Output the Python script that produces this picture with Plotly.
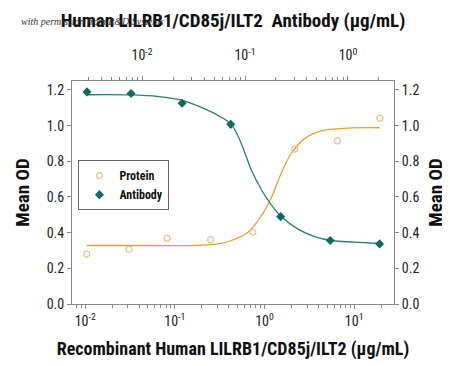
import plotly.graph_objects as go

# ---- data ----
protein_conc = [0.0104, 0.0308, 0.082, 0.25, 0.74, 2.17, 6.5, 19.3]          # µg/mL, bottom axis
protein_od = [0.28, 0.306, 0.368, 0.361, 0.402, 0.868, 0.914, 1.041]

antibody_conc = [0.00292, 0.00782, 0.0245, 0.0727, 0.222, 0.673, 2.03]        # µg/mL, top axis
antibody_od = [1.189, 1.18, 1.125, 1.007, 0.49, 0.356, 0.337]

protein_fit_x = [0.0104, 0.05, 0.182, 0.303, 0.427, 0.655, 0.92, 1.19, 1.54, 1.99, 2.81, 4.30, 8.53, 19.2]
protein_fit_y = [0.328, 0.328, 0.329, 0.337, 0.356, 0.402, 0.494, 0.596, 0.734, 0.845, 0.927, 0.970, 0.986, 0.988]

antibody_fit_x = [0.00292, 0.0078, 0.0143, 0.0241, 0.0377, 0.0589, 0.0736, 0.092, 0.115, 0.144,
                  0.174, 0.225, 0.327, 0.475, 0.689, 1.16, 2.03]
antibody_fit_y = [1.173, 1.172, 1.163, 1.143, 1.102, 1.047, 1.007, 0.90, 0.752, 0.642,
                  0.568, 0.49, 0.42, 0.378, 0.356, 0.347, 0.339]

y_ticks = [0.0, 0.2, 0.4, 0.6, 0.8, 1.0, 1.2]
y_ticklabels = ["0.0", "0.2", "0.4", "0.6", "0.8", "1.0", "1.2"]
bottom_ticks = [0.01, 0.1, 1, 10]
bottom_ticklabels = ["10<sup>-2</sup>", "10<sup>-1</sup>", "10<sup>0</sup>", "10<sup>1</sup>"]
top_ticks = [0.01, 0.1, 1]
top_ticklabels = ["10<sup>-2</sup>", "10<sup>-1</sup>", "10<sup>0</sup>"]

FONT = "Roboto Condensed, Liberation Sans Narrow, Roboto, Liberation Sans, sans-serif"
TEAL_LINE = "#2b7d78"
TEAL_MARK = "#0f6a5f"
ORANGE_LINE = "#e3a236"
ORANGE_MARK = "#e6bf8c"
AXIS = "#888888"


def minor_vals(lo_exp, hi_exp):
    vals = []
    for e in range(lo_exp, hi_exp + 1):
        for d in range(2, 10):
            vals.append(d * 10 ** e)
    return vals


fig = go.Figure()

fig.add_trace(go.Scatter(
    x=protein_fit_x, y=protein_fit_y, mode="lines", line=dict(color=ORANGE_LINE, width=1.3, shape="spline"),
    showlegend=False, hoverinfo="skip", xaxis="x", yaxis="y"))
fig.add_trace(go.Scatter(
    x=antibody_fit_x, y=antibody_fit_y, mode="lines", line=dict(color=TEAL_LINE, width=1.3, shape="spline"),
    showlegend=False, hoverinfo="skip", xaxis="x2", yaxis="y"))
fig.add_trace(go.Scatter(
    x=protein_conc, y=protein_od, mode="markers", name="Protein",
    marker=dict(symbol="circle-open", size=6, color=ORANGE_MARK, line=dict(width=1.2, color=ORANGE_MARK)),
    xaxis="x", yaxis="y"))
fig.add_trace(go.Scatter(
    x=antibody_conc, y=antibody_od, mode="markers", name="Antibody",
    marker=dict(symbol="diamond", size=7, color=TEAL_MARK),
    xaxis="x2", yaxis="y"))
# invisible trace to activate the right axis
fig.add_trace(go.Scatter(x=[0.01], y=[0], mode="markers", marker=dict(opacity=0), showlegend=False,
                         hoverinfo="skip", xaxis="x", yaxis="y2"))

tickfont = dict(family=FONT, size=14, color="#222222")
top_title_font = dict(family=FONT, size=19, color="#111111", weight="bold")
bottom_title_font = dict(family=FONT, size=18, color="#111111", weight="bold")
y_title_font = dict(family=FONT, size=19, color="#111111", weight="bold")

fig.update_layout(
    width=450, height=366,
    margin=dict(l=64, r=64, t=70, b=70),
    paper_bgcolor="white", plot_bgcolor="white",
    font=dict(family=FONT),
    xaxis=dict(
        type="log", range=[-2.147, 1.444], tickvals=bottom_ticks, ticktext=bottom_ticklabels,
        tickfont=tickfont, ticks="outside", ticklen=4, tickcolor=AXIS, showgrid=False, zeroline=False,
        showline=True, linecolor=AXIS, linewidth=1,
        minor=dict(tickvals=minor_vals(-3, 1), ticks="outside", ticklen=3, tickcolor=AXIS, showgrid=False),
        title=dict(text="Recombinant Human LILRB1/CD85j/ILT2 (µg/mL)", font=bottom_title_font, standoff=14),
    ),
    xaxis2=dict(
        type="log", range=[-2.680, 0.447], overlaying="x", side="top", anchor="y",
        tickvals=top_ticks, ticktext=top_ticklabels, ticklabelstandoff=10,
        tickfont=tickfont, ticks="outside", ticklen=4, tickcolor=AXIS, showgrid=False, zeroline=False,
        showline=True, linecolor=AXIS, linewidth=1,
        minor=dict(tickvals=minor_vals(-3, 0), ticks="outside", ticklen=3, tickcolor=AXIS, showgrid=False),
        title=dict(text="Human LILRB1/CD85j/ILT2  Antibody (µg/mL)", font=top_title_font, standoff=12),
    ),
    yaxis=dict(
        range=[0, 1.25], tickvals=y_ticks, ticktext=y_ticklabels, tickfont=tickfont,
        ticks="outside", ticklen=4, tickcolor=AXIS, showgrid=False, zeroline=False,
        showline=True, linecolor=AXIS, linewidth=1,
        title=dict(text="Mean OD", font=y_title_font, standoff=12),
    ),
    yaxis2=dict(
        range=[0, 1.25], overlaying="y", side="right", anchor="x",
        tickvals=y_ticks, ticktext=y_ticklabels, tickfont=tickfont,
        ticks="outside", ticklen=4, tickcolor=AXIS, showgrid=False, zeroline=False,
        showline=True, linecolor=AXIS, linewidth=1,
        title=dict(text="Mean OD", font=y_title_font, standoff=10),
    ),
    legend=dict(
        x=0.02, y=0.645, xanchor="left", yanchor="top",
        bordercolor="#666666", borderwidth=1, bgcolor="white",
        font=dict(family=FONT, size=12, color="#111111", weight="bold"),
        itemwidth=30, tracegroupgap=0,
    ),
    annotations=[dict(
        text="with permission from R&amp;D Systems", xref="paper", yref="paper",
        x=-0.165, y=1.265, xanchor="left", yanchor="middle", showarrow=False,
        font=dict(family="Liberation Serif, DejaVu Serif, serif", size=10, color="#333333", style="italic"),
    )],
)

fig.write_html("out.html")
